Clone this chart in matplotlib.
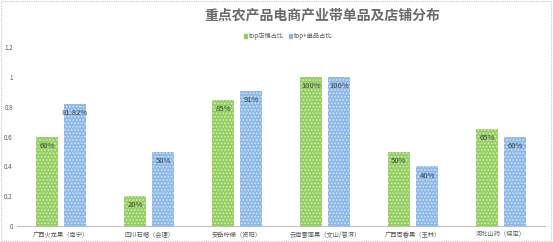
import matplotlib
matplotlib.use('Agg')
import numpy as np
from matplotlib import pyplot as plt
from matplotlib.patches import Rectangle

plt.rcParams['font.family'] = ['Noto Sans CJK SC', 'DejaVu Sans']
plt.rcParams['hatch.linewidth'] = 0.8

# data
categories = ['广西火龙果（南宁）', '四川石榴（会理）', '安岳柠檬（资阳）',
              '云南雪莲果（文山/普洱）', '广西百香果（玉林）', '河北山药（保定）']
shop_share = [0.60, 0.20, 0.85, 1.00, 0.50, 0.65]
item_share = [0.8182, 0.50, 0.91, 1.00, 0.40, 0.60]
shop_labels = ['60%', '20%', '85%', '100%', '50%', '65%']
item_labels = ['81.82%', '50%', '91%', '100%', '40%', '60%']
series_names = ['top店铺占比', 'top+单品占比']

green = '#92CF5E'
blue = '#8DB8E8'

fig = plt.figure(figsize=(5.53, 2.42), dpi=100)
# axes: 0 at y=226px, 1 at y=77px, groups centred at 61 + 88k px
ax = fig.add_axes([17 / 553, 1 - 226 / 242, 528 / 553, 189 / 242])

x = np.arange(len(categories))
w = 0.25
b1 = ax.bar(x - 0.16, shop_share, w, color=green, hatch='.....',
            edgecolor='#d5edc0', linewidth=0)
b2 = ax.bar(x + 0.16, item_share, w, color=blue, hatch='.....',
            edgecolor='#d3e5f7', linewidth=0)

for bars, labels in ((b1, shop_labels), (b2, item_labels)):
    for r, lab in zip(bars, labels):
        ax.text(r.get_x() + r.get_width() / 2, r.get_height() - 0.035, lab,
                ha='center', va='top', fontsize=5.5, color='#404040')

ax.set_xlim(-0.5, len(categories) - 0.5)
ax.set_ylim(0, 1.27)
ax.set_yticks([0, 0.2, 0.4, 0.6, 0.8, 1.0, 1.2])
ax.set_yticklabels(['0', '0.2', '0.4', '0.6', '0.8', '1', '1.2'])
ax.set_xticks(x)
ax.set_xticklabels(categories)
ax.tick_params(axis='both', length=0, labelsize=4.5, labelcolor='#595959')
ax.tick_params(axis='y', pad=3)
ax.tick_params(axis='x', pad=3.5)
for s in ['top', 'right', 'left']:
    ax.spines[s].set_visible(False)
ax.spines['bottom'].set_color('#bfbfbf')
ax.spines['bottom'].set_linestyle((0, (1, 1)))
ax.spines['bottom'].set_linewidth(0.8)

fig.text(322 / 553, 1 - 16 / 242, '重点农产品电商产业带单品及店铺分布',
         ha='center', va='center', fontsize=10, fontweight='bold', color='#6a6a6a')

handles = [Rectangle((0, 0), 1, 1, color=green), Rectangle((0, 0), 1, 1, color=blue)]
fig.legend(handles, series_names, loc='center', bbox_to_anchor=(288 / 553, 1 - 36 / 242),
           ncol=2, frameon=False, fontsize=4.5, handlelength=0.5, handleheight=0.5,
           handletextpad=0.3, columnspacing=0.8, labelcolor='#595959')

fig.patches.append(Rectangle((0.002, 0.004), 0.994, 0.992, transform=fig.transFigure,
                             fill=False, edgecolor='#c8c8c8', linewidth=0.8,
                             linestyle=(0, (1, 1))))

plt.savefig('out.png', dpi=100)
